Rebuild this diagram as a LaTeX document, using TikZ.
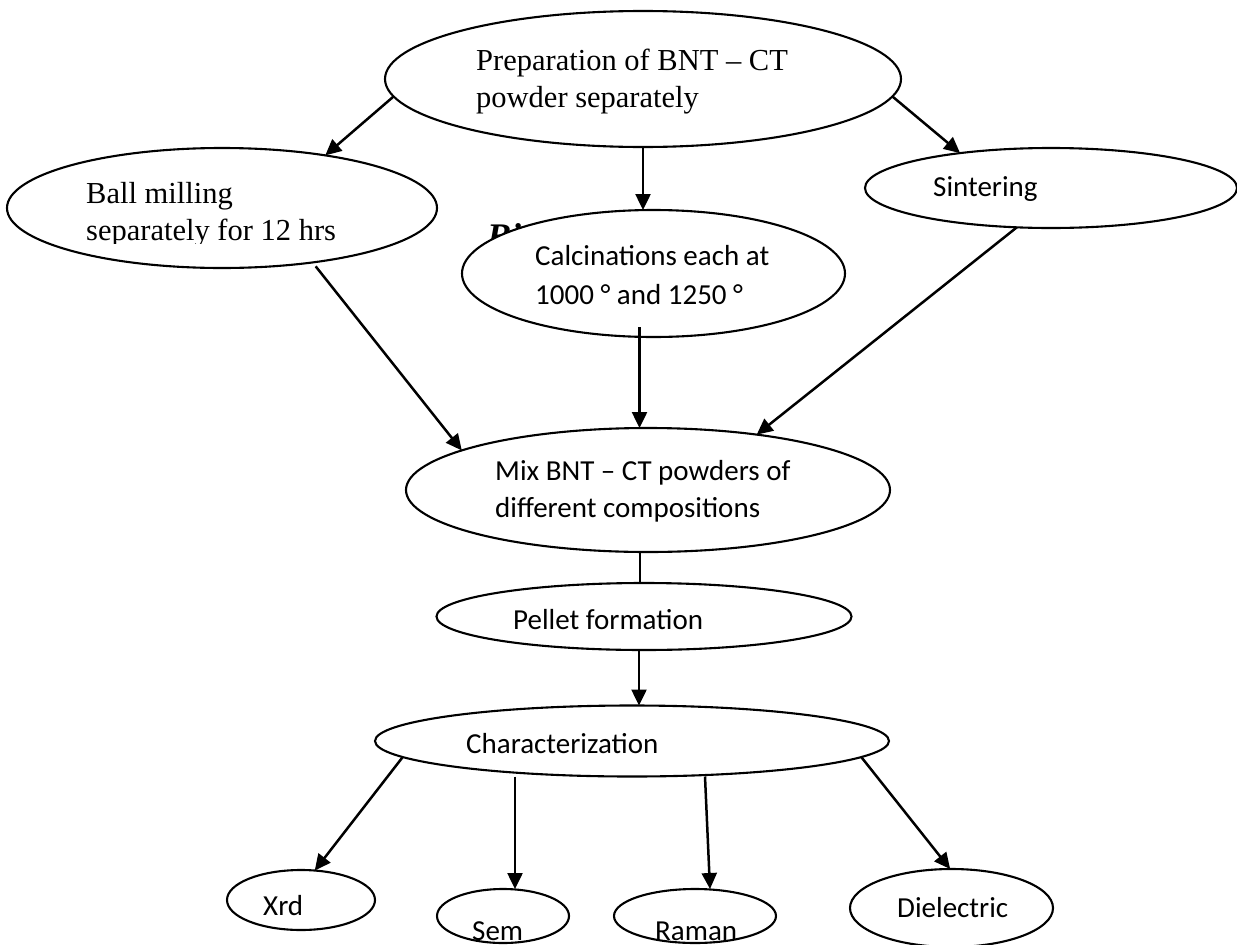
\documentclass[tikz,border=0pt]{standalone}
\usepackage{fontspec}
\setmainfont{Liberation Serif}
\newfontfamily\calibri{Carlito}
\usetikzlibrary{shapes.geometric,arrows.meta}
\begin{document}
\begin{tikzpicture}[x=1pt,y=-1pt,
  ell/.style={draw=black,fill=white,ellipse,line width=2.1pt,inner sep=0pt,outer sep=0pt},
  arr/.style={line width=2.5pt,-{Triangle[length=16pt,width=15pt]}},
  lnk/.style={line width=2.5pt},
  ser/.style={anchor=base west,inner sep=0pt,font=\fontsize{30.5}{37}\selectfont},
  san/.style={anchor=base west,inner sep=0pt,font=\calibri\fontsize{29}{35}\selectfont}]
\useasboundingbox (0,0) rectangle (1237,945);
\clip (0,0) rectangle (1237,945);
\fill[white] (0,0) rectangle (1237,945);
% partly hidden heading
\node[anchor=base west,inner sep=0pt,font=\fontsize{36}{40}\selectfont\bfseries\itshape] (bi) at (487,248) {Bi};
% ellipses
\node[ell,minimum width=516pt,minimum height=136pt] (prep) at (643,79) {};
\node[ell,minimum width=430pt,minimum height=120pt] (ball) at (222,208) {};
\node[ell,minimum width=372pt,minimum height=80pt] (sint) at (1051,188) {};
\node[ell,minimum width=383pt,minimum height=127pt] (calc) at (653.5,273.5) {};
\node[ell,minimum width=484pt,minimum height=124pt] (mix) at (648,490) {};
\node[ell,minimum width=415pt,minimum height=67pt] (pel) at (644,616.5) {};
\node[ell,minimum width=514pt,minimum height=71pt] (char) at (632,741) {};
\node[ell,minimum width=148pt,minimum height=60pt] (xrd) at (301,900) {};
\node[ell,minimum width=132pt,minimum height=54pt] (sem) at (503,916) {};
\node[ell,minimum width=162pt,minimum height=54pt] (raman) at (695,916) {};
\node[ell,minimum width=203pt,minimum height=78pt] (diel) at (951.5,908) {};
% texts
\node[ser] (prepA) at (476,70) {Preparation of BNT – CT};
\node[ser] (prepB) at (476,107) {powder separately};
\node[ser] (ballA) at (86,203) {Ball milling};
\begin{scope}
\clip (80,150) rectangle (450,243);
\node[ser] (ballB) at (86,240) {separately for 12 hrs};
\end{scope}
\node[san] (sintT) at (933,196) {Sintering};
\node[san] (calcA) at (535,265) {Calcinations each at};
\node[san] (calcB) at (535,304) {1000 ° and 1250 °};
\node[san] (mixA) at (495,480) {Mix BNT – CT powders of};
\node[san] (mixB) at (495,517) {different compositions};
\node[san] (pelT) at (513,629) {Pellet formation};
\node[san] (charT) at (466,753) {Characterization};
\node[san] (xrdT) at (263,915) {Xrd};
\node[san] (semT) at (472,940) {Sem};
\node[san] (ramanT) at (655,940) {Raman};
\node[san] (dielT) at (897,917) {Dielectric};
% connectors
\draw[arr] (prep.184.4) -- (ball.27.2);
\draw[arr] (prep.south) -- (prep.south |- calc.north);
\draw[arr] (prep.-4.4) -- (sint.159.2);
\draw[arr,shorten <=5pt] (ball.-31.4) -- (mix.168);
\draw[arr] ([xshift=-14pt,yshift=10pt]calc.south) -- ([xshift=-14pt]calc.south |- mix.north);
\draw[arr] (sint.229.6) -- (mix.27);
\draw[lnk] ([xshift=-4pt]pel.north |- mix.south) -- ([xshift=-4pt]pel.north);
\draw[arr] ([xshift=-5pt]pel.south) -- ([xshift=-5pt]pel.south |- char.north);
\draw[arr] (char.184.3) -- (xrd.65);
\draw[arr] ([xshift=12pt]sem.north |- char.south) -- ([xshift=12pt]sem.north);
\draw[arr] ([xshift=10pt]raman.north |- char.south) -- ([xshift=15pt]raman.north);
\draw[arr] (char.-4.4) -- (diel.92);
\end{tikzpicture}
\end{document}
